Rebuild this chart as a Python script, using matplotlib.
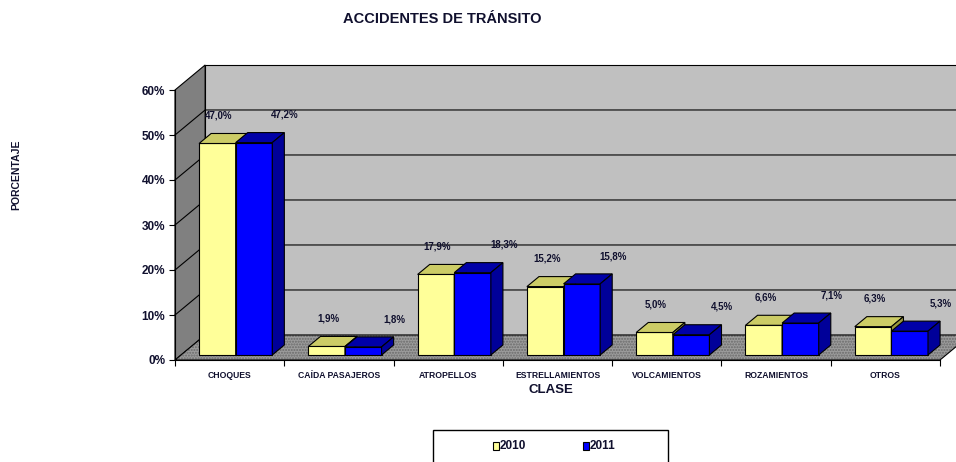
import matplotlib
matplotlib.use("Agg")
import matplotlib.pyplot as plt
from matplotlib.patches import Polygon, Rectangle

# datos del grafico
clases = ["CHOQUES", "CAÍDA PASAJEROS", "ATROPELLOS", "ESTRELLAMIENTOS",
          "VOLCAMIENTOS", "ROZAMIENTOS", "OTROS"]
anios = ["2010", "2011"]
valores_2010 = [47.0, 1.9, 17.9, 15.2, 5.0, 6.6, 6.3]
valores_2011 = [47.2, 1.8, 18.3, 15.8, 4.5, 7.1, 5.3]
ticks_y = [0, 10, 20, 30, 40, 50, 60]

plt.rcParams['font.family'] = ['Liberation Sans', 'DejaVu Sans']
TXT = '#10102e'

# profundidad del efecto 3D (unidades de datos)
DX = 0.276
DY = 5.56
T0, T1 = 0.2, 0.6
W = 0.335
YMAX = ticks_y[-1]
N = len(clases)


def pt(x, y, t):
    return (x + t * DX, y + t * DY)


fig = plt.figure(figsize=(9.56, 4.62), dpi=100)
ax = fig.add_axes([175 / 956, 102 / 462, 765 / 956, 270 / 462])
ax.set_xlim(0, N)
ax.set_ylim(0, YMAX)
ax.patch.set_visible(False)


def poly(pts, fc, ec='black', lw=0.8, z=1, **kw):
    p = Polygon(pts, closed=True, facecolor=fc, edgecolor=ec, linewidth=lw,
                clip_on=False, zorder=z, **kw)
    ax.add_patch(p)


# paredes y piso
poly([pt(0, 0, 0), pt(0, 0, 1), pt(0, YMAX, 1), pt(0, YMAX, 0)], '#808080')
poly([pt(0, 0, 1), pt(N, 0, 1), pt(N, YMAX, 1), pt(0, YMAX, 1)], '#c0c0c0')
poly([pt(0, 0, 0), pt(N, 0, 0), pt(N, 0, 1), pt(0, 0, 1)], '#9c9c9c',
     ec='#6a6a6a', lw=0, hatch='......')
poly([pt(0, 0, 0), pt(N, 0, 0), pt(N, 0, 1), pt(0, 0, 1)], 'none')

# lineas de division
for v in ticks_y[1:-1]:
    a, b, c = pt(0, v, 0), pt(0, v, 1), pt(N, v, 1)
    ax.plot([a[0], b[0], c[0]], [a[1], b[1], c[1]], color='black', lw=0.8,
            clip_on=False, zorder=2)


def barra(x0, h, cf, ct, cs):
    poly([pt(x0, 0, T0), pt(x0 + W, 0, T0), pt(x0 + W, h, T0), pt(x0, h, T0)], cf, z=3)
    poly([pt(x0, h, T0), pt(x0 + W, h, T0), pt(x0 + W, h, T1), pt(x0, h, T1)], ct, z=3)
    poly([pt(x0 + W, 0, T0), pt(x0 + W, 0, T1), pt(x0 + W, h, T1), pt(x0 + W, h, T0)], cs, z=3)


colores = [('#ffff99', '#cccc66', '#99993d'), ('#0000ff', '#0000a8', '#000099')]
for i in range(N):
    barra(i + 0.5 - W, valores_2010[i], *colores[0])
    barra(i + 0.5, valores_2011[i], *colores[1])

etq = dict(fontsize=7, fontweight='bold', color=TXT, ha='center', va='center', zorder=5)
for i in range(N):
    v1, v2 = valores_2010[i], valores_2011[i]
    ax.text(i + 0.5 - W / 2 + 0.07, v1 + 7.3, f"{v1:.1f}".replace('.', ',') + '%',
            clip_on=False, **etq)
    ax.text(i + 0.5 + W / 2 + 0.34, v2 + 7.3, f"{v2:.1f}".replace('.', ',') + '%',
            clip_on=False, **etq)

# ejes
for s in ['top', 'right']:
    ax.spines[s].set_visible(False)
ax.spines['left'].set_zorder(4)
ax.spines['bottom'].set_zorder(4)
ax.set_yticks(ticks_y)
ax.set_yticklabels([f"{v}%" for v in ticks_y], fontsize=8.5, fontweight='bold', color=TXT)
ax.tick_params(axis='y', direction='out', length=4, width=0.8, pad=3)
ax.set_xticks(range(N + 1))
ax.set_xticklabels([])
ax.tick_params(axis='x', which='major', direction='out', length=4, width=0.8)
ax.set_xticks([i + 0.5 for i in range(N)], minor=True)
ax.set_xticklabels(clases, minor=True, fontsize=6.2, fontweight='bold', color=TXT)
ax.tick_params(axis='x', which='minor', length=0, pad=8)

fig.text(442 / 956, 1 - 19 / 462, "ACCIDENTES DE TRÁNSITO", ha='center', va='center',
         fontsize=10.5, fontweight='bold', color=TXT)
fig.text(16 / 956, 1 - 175 / 462, "PORCENTAJE", rotation=90, ha='center', va='center',
         fontsize=7.5, fontweight='bold', color=TXT)
fig.text(551 / 956, 1 - 390 / 462, "CLASE", ha='center', va='center',
         fontsize=9.5, fontweight='bold', color=TXT)

# leyenda
fig.add_artist(Rectangle((433 / 956, -0.05), 235 / 956, 0.05 + 32 / 462,
                         transform=fig.transFigure, facecolor='white',
                         edgecolor='black', linewidth=1))
for k, (anio, xs) in enumerate(zip(anios, [493, 583])):
    fig.add_artist(Rectangle((xs / 956, 1 - 450 / 462), 6 / 956, 8 / 462,
                             transform=fig.transFigure, facecolor=colores[k][0],
                             edgecolor='black', linewidth=0.8))
    fig.text((xs + 7) / 956, 1 - 446 / 462, anio, ha='left', va='center',
             fontsize=8.5, fontweight='bold', color=TXT)

fig.savefig("out.png", dpi=100)
